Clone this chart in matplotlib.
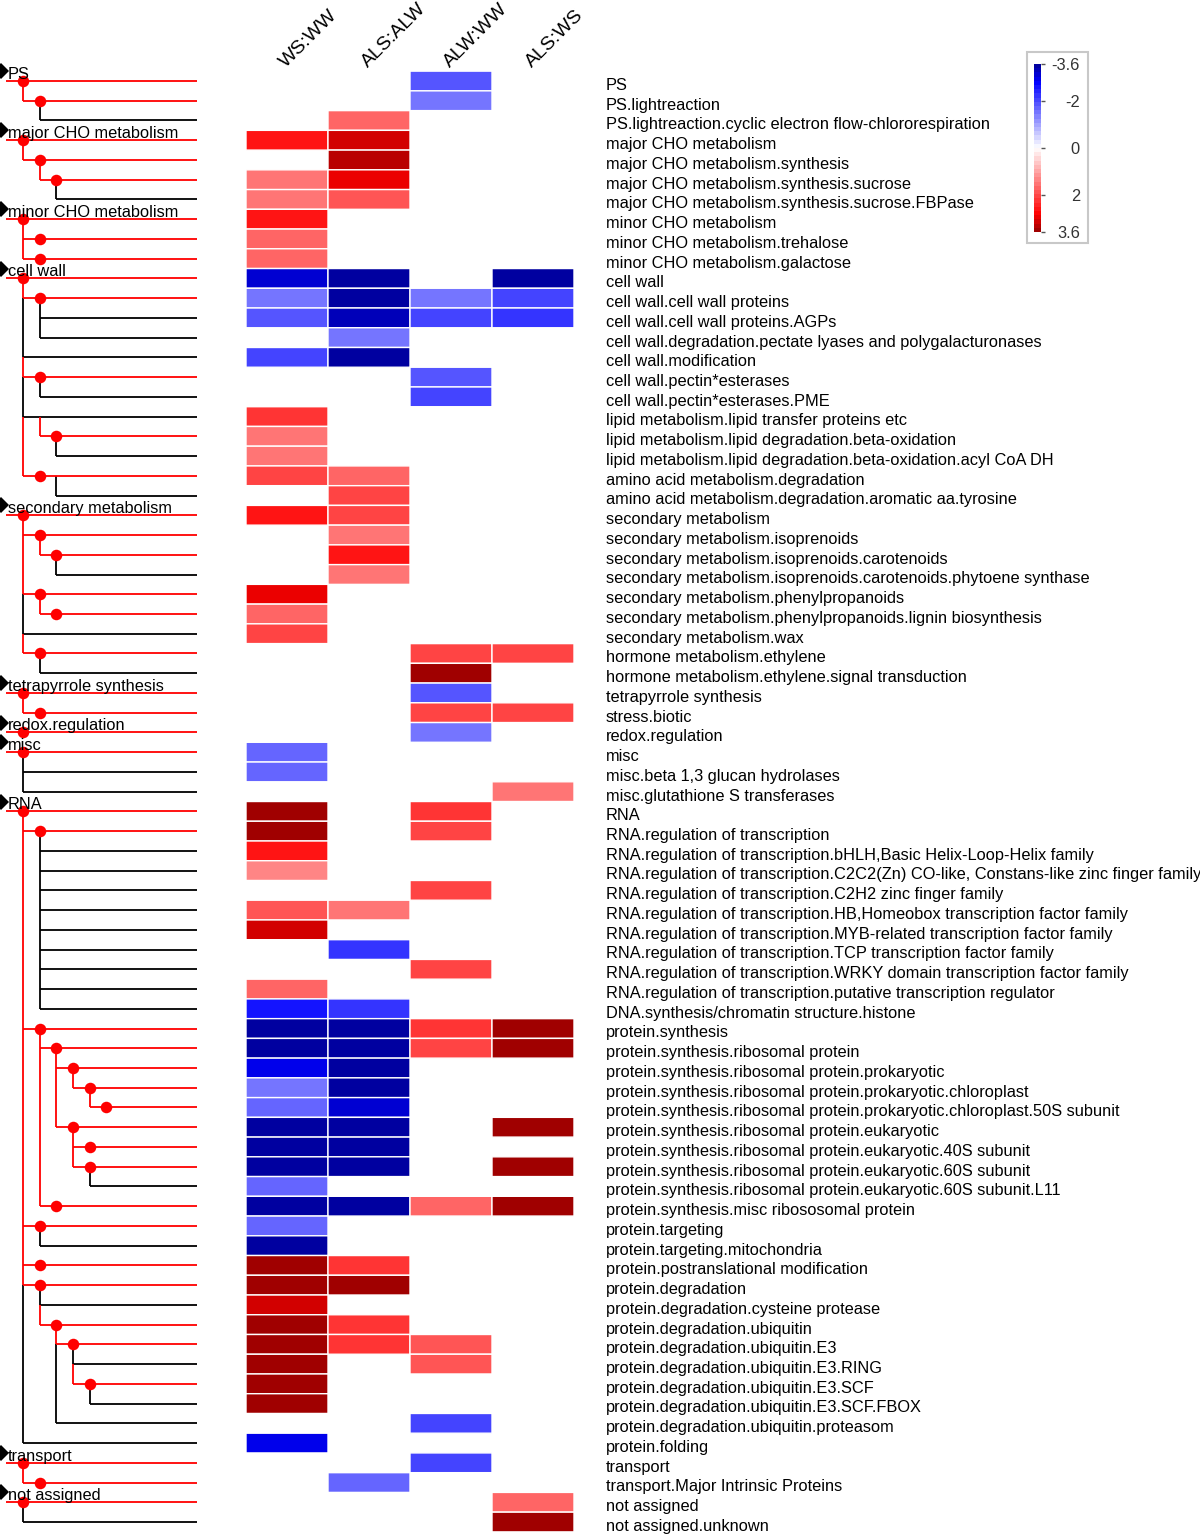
import numpy as np
import matplotlib.pyplot as plt
from matplotlib.colors import LinearSegmentedColormap, Normalize
from matplotlib.cm import ScalarMappable
from matplotlib.patches import Rectangle

plt.rcParams['font.family'] = ['Liberation Sans', 'DejaVu Sans']

n = np.nan

labels = [
    "PS", "PS.lightreaction", "PS.lightreaction.cyclic electron flow-chlororespiration",
    "major CHO metabolism", "major CHO metabolism.synthesis",
    "major CHO metabolism.synthesis.sucrose", "major CHO metabolism.synthesis.sucrose.FBPase",
    "minor CHO metabolism", "minor CHO metabolism.trehalose", "minor CHO metabolism.galactose",
    "cell wall", "cell wall.cell wall proteins", "cell wall.cell wall proteins.AGPs",
    "cell wall.degradation.pectate lyases and polygalacturonases", "cell wall.modification",
    "cell wall.pectin*esterases", "cell wall.pectin*esterases.PME",
    "lipid metabolism.lipid transfer proteins etc",
    "lipid metabolism.lipid degradation.beta-oxidation",
    "lipid metabolism.lipid degradation.beta-oxidation.acyl CoA DH",
    "amino acid metabolism.degradation", "amino acid metabolism.degradation.aromatic aa.tyrosine",
    "secondary metabolism", "secondary metabolism.isoprenoids",
    "secondary metabolism.isoprenoids.carotenoids",
    "secondary metabolism.isoprenoids.carotenoids.phytoene synthase",
    "secondary metabolism.phenylpropanoids",
    "secondary metabolism.phenylpropanoids.lignin biosynthesis", "secondary metabolism.wax",
    "hormone metabolism.ethylene", "hormone metabolism.ethylene.signal transduction",
    "tetrapyrrole synthesis", "stress.biotic", "redox.regulation",
    "misc", "misc.beta 1,3 glucan hydrolases", "misc.glutathione S transferases",
    "RNA", "RNA.regulation of transcription",
    "RNA.regulation of transcription.bHLH,Basic Helix-Loop-Helix family",
    "RNA.regulation of transcription.C2C2(Zn) CO-like, Constans-like zinc finger family",
    "RNA.regulation of transcription.C2H2 zinc finger family",
    "RNA.regulation of transcription.HB,Homeobox transcription factor family",
    "RNA.regulation of transcription.MYB-related transcription factor family",
    "RNA.regulation of transcription.TCP transcription factor family",
    "RNA.regulation of transcription.WRKY domain transcription factor family",
    "RNA.regulation of transcription.putative transcription regulator",
    "DNA.synthesis/chromatin structure.histone",
    "protein.synthesis", "protein.synthesis.ribosomal protein",
    "protein.synthesis.ribosomal protein.prokaryotic",
    "protein.synthesis.ribosomal protein.prokaryotic.chloroplast",
    "protein.synthesis.ribosomal protein.prokaryotic.chloroplast.50S subunit",
    "protein.synthesis.ribosomal protein.eukaryotic",
    "protein.synthesis.ribosomal protein.eukaryotic.40S subunit",
    "protein.synthesis.ribosomal protein.eukaryotic.60S subunit",
    "protein.synthesis.ribosomal protein.eukaryotic.60S subunit.L11",
    "protein.synthesis.misc ribososomal protein",
    "protein.targeting", "protein.targeting.mitochondria",
    "protein.postranslational modification", "protein.degradation",
    "protein.degradation.cysteine protease", "protein.degradation.ubiquitin",
    "protein.degradation.ubiquitin.E3", "protein.degradation.ubiquitin.E3.RING",
    "protein.degradation.ubiquitin.E3.SCF", "protein.degradation.ubiquitin.E3.SCF.FBOX",
    "protein.degradation.ubiquitin.proteasom", "protein.folding",
    "transport", "transport.Major Intrinsic Proteins",
    "not assigned", "not assigned.unknown",
]

# level of each bin in the tree (1 = top level)
depth = [1, 2, 3, 1, 2, 3, 4, 1, 2, 2,
         1, 2, 3, 3, 2, 2, 3, 2, 3, 4,
         2, 4, 1, 2, 3, 4, 2, 3, 2, 2,
         3, 1, 2, 1, 1, 2, 2, 1, 2, 3,
         3, 3, 3, 3, 3, 3, 3, 3, 2, 3,
         4, 5, 6, 4, 5, 5, 6, 3, 2, 3,
         2, 2, 3, 3, 4, 5, 5, 6, 4, 2,
         1, 2, 1, 2]

# 1 = significant bin (red node)
signif = [1, 1, 0, 1, 1, 1, 0, 1, 1, 1,
          1, 1, 0, 0, 0, 1, 0, 0, 1, 0,
          1, 0, 1, 1, 1, 0, 1, 1, 0, 1,
          0, 1, 1, 1, 1, 0, 0, 1, 1, 0,
          0, 0, 0, 0, 0, 0, 0, 0, 1, 1,
          1, 1, 1, 1, 1, 1, 0, 1, 1, 0,
          1, 1, 0, 1, 1, 0, 1, 0, 0, 0,
          1, 1, 1, 0]

contrasts = ["WS:WW", "ALS:ALW", "ALW:WW", "ALS:WS"]

ws_ww = [n, n, n, 2.67, n, 1.44, 1.44, 2.67, 1.65, 1.76,
         -3.1, -1.53, -1.93, n, -2.0, n, n, 2.33, 1.5, 1.48,
         2.16, n, 2.6, n, n, n, 2.95, 1.65, 2.1, n,
         n, n, n, n, -1.7, -1.76, n, 3.6, 3.6, 2.67,
         1.42, n, 1.88, 3.08, n, n, 1.65, -2.6, -3.6, -3.6,
         -2.94, -1.53, -1.65, -3.6, -3.6, -3.6, -1.76, -3.6, -1.76, -3.6,
         3.6, 3.6, 3.2, 3.6, 3.6, 3.6, 3.6, 3.6, n, -2.94,
         n, n, n, n]

als_alw = [n, n, 1.76, 3.23, 3.38, 2.9, 1.93, n, n, n,
           -3.6, -3.6, -3.3, -1.45, -3.6, n, n, n, n, n,
           1.76, 2.1, 2.05, 1.48, 2.56, 1.48, n, n, n, n,
           n, n, n, n, n, n, n, n, n, n,
           n, n, 1.6, n, -2.16, n, n, -2.16, -3.6, -3.6,
           -3.6, -3.6, -3.2, -3.6, -3.6, -3.6, n, -3.5, n, n,
           2.33, 3.6, n, 2.33, 2.33, n, n, n, n, n,
           n, -1.76, n, n]

alw_ww = [-1.93, -1.53, n, n, n, n, n, n, n, n,
          n, -1.5, -2.0, n, n, -1.9, -2.15, n, n, n,
          n, n, n, n, n, n, n, n, n, 2.16,
          3.6, -1.93, 2.16, -1.53, n, n, n, 2.33, 2.1, n,
          n, 2.05, n, n, n, 2.16, n, n, 2.33, 2.16,
          n, n, n, n, n, n, n, 1.7, n, n,
          n, n, n, n, 1.93, 1.93, n, n, -2.0, n,
          -2.0, n, n, n]

als_ws = [n, n, n, n, n, n, n, n, n, n,
          -3.6, -2.1, -2.2, n, n, n, n, n, n, n,
          n, n, n, n, n, n, n, n, n, 2.16,
          n, n, 2.16, n, n, n, 1.48, n, n, n,
          n, n, n, n, n, n, n, n, 3.6, 3.6,
          n, n, n, 3.6, n, 3.6, n, 3.6, n, n,
          n, n, n, n, n, n, n, n, n, n,
          n, n, 1.7, 3.6]

cbar_ticks = [-3.6, -2, 0, 2, 3.6]
cbar_ticklabels = ["-3.6", "-2", "0", "2", "3.6"]

# ---------------------------------------------------------------
W, H = 1200, 1534
row0, pitch = 81, 19.74          # pixel centre of first row, row spacing
ytop = (0 - row0) / pitch
ybot = (H - row0) / pitch
fs = 11.8

cmap = LinearSegmentedColormap.from_list(
    "bwr_dark",
    [(0.0, "#0000A0"), (0.7 / 7.2, "#0000FF"), (0.5, "#FFFFFF"),
     (1 - 0.7 / 7.2, "#FF0000"), (1.0, "#A00000")], N=40)
norm = Normalize(vmin=-3.6, vmax=3.6)

fig = plt.figure(figsize=(W / 100, H / 100), dpi=100)

# main axes: x in pixels, y in rows
ax = fig.add_axes([0, 0, 1, 1])
ax.set_xlim(0, W)
ax.set_ylim(ybot, ytop)
ax.axis('off')

def tree_x(d):
    return 6.3 + 16.7 * d

for i, (d, s) in enumerate(zip(depth, signif)):
    col = 'red' if s else 'black'
    z = 3 if s else 2
    x0 = tree_x(d - 1)
    ax.plot([x0, 197], [i, i], color=col, lw=1.3, zorder=z, solid_capstyle='butt')
    if d > 1:
        j = i - 1
        while depth[j] > d:
            j -= 1
        ax.plot([x0, x0], [j, i], color=col, lw=1.3, zorder=z, solid_capstyle='butt')
    if s:
        ax.plot(tree_x(d), i, 'o', color='red', ms=8.3, mew=0, zorder=5)
    if d == 1:
        ax.plot(1, i - 0.5, 'D', color='black', ms=8, mew=0, zorder=6, clip_on=False)
        ax.text(8, i - 0.1, labels[i], va='baseline', ha='left', fontsize=fs, zorder=7)
    ax.text(606, i + 0.45, labels[i], va='baseline', ha='left', fontsize=fs)

# heatmap axes: x in contrast columns, y in rows
hx = fig.add_axes([246 / W, 0, 328 / W, 1])
vals = np.ma.masked_invalid(np.column_stack([ws_ww, als_alw, alw_ww, als_ws]))
hx.pcolor(np.arange(len(contrasts) + 1), np.arange(len(labels) + 1) - 0.5, vals,
          cmap=cmap, norm=norm, edgecolors='white', linewidth=1.0)
hx.set_xlim(0, len(contrasts))
hx.set_ylim(ybot, ytop)
hx.axis('off')
for c, name in enumerate(contrasts):
    hx.text(c + 0.45, -0.8, name, rotation=45, rotation_mode='anchor',
            ha='left', va='center', fontsize=14)

# colour key
cax = fig.add_axes([1034 / W, 1 - 232 / H, 7 / W, 168 / H])
cb = fig.colorbar(ScalarMappable(norm=norm, cmap=cmap), cax=cax, ticks=cbar_ticks)
cb.outline.set_visible(False)
cax.invert_yaxis()
cb.set_ticklabels(cbar_ticklabels)
cax.tick_params(length=3, width=1, color='#555555', labelsize=fs,
                labelcolor='#333333', pad=25)
for t in cax.get_yticklabels():
    t.set_horizontalalignment('right')
fig.add_artist(Rectangle((1027 / W, 1 - 243 / H), 61 / W, 191 / H,
                         transform=fig.transFigure, fill=False,
                         edgecolor='#c8c8c8', lw=1.5))

fig.savefig('out.png', dpi=100)
